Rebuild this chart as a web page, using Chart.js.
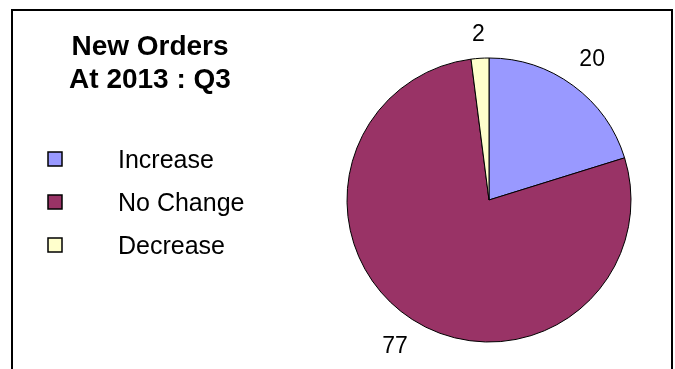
<!DOCTYPE html>
<html>
<head>
<meta charset="utf-8">
<script src="https://cdn.jsdelivr.net/npm/chart.js@4"></script>
<style>
    body { margin: 0; background: #fff; }
    #wrap { width: 675px; height: 369px; }
</style>
</head>
<body>
<div id="wrap"><canvas id="orderChart" width="675" height="369"></canvas></div>
<script>
const categories = ['Increase', 'No Change', 'Decrease'];
const values = [20, 77, 2];
const sliceColors = ['#9999FF', '#993366', '#FFFFCC'];
const titleLines = ['New Orders', 'At 2013 : Q3'];

const FONT = "'Liberation Sans', Arial, sans-serif";

// frame, title and legend drawn beside the pie
const sidePanel = {
    id: 'sidePanel',
    afterDraw(chart) {
        const ctx = chart.ctx;
        ctx.save();

        ctx.strokeStyle = '#000';
        ctx.lineWidth = 2;
        ctx.strokeRect(12, 10, 660, 380);

        ctx.fillStyle = '#000';
        ctx.font = 'bold 28px ' + FONT;
        ctx.textAlign = 'center';
        ctx.textBaseline = 'alphabetic';
        titleLines.forEach((line, i) => ctx.fillText(line, 150, 55 + i * 33));

        ctx.font = '25px ' + FONT;
        ctx.textAlign = 'left';
        chart.data.labels.forEach((label, i) => {
            const base = 168 + i * 43;
            ctx.fillStyle = chart.data.datasets[0].backgroundColor[i];
            ctx.fillRect(48, base - 16, 14, 14);
            ctx.lineWidth = 1.5;
            ctx.strokeStyle = '#000';
            ctx.strokeRect(48, base - 16, 14, 14);
            ctx.fillStyle = '#000';
            ctx.fillText(label, 118, base);
        });

        // value labels just outside each slice; wider text sits a bit further out
        const meta = chart.getDatasetMeta(0);
        ctx.font = '23px ' + FONT;
        ctx.textAlign = 'center';
        ctx.textBaseline = 'middle';
        meta.data.forEach((arc, i) => {
            const p = arc.getProps(['x', 'y', 'startAngle', 'endAngle', 'outerRadius'], true);
            const text = String(chart.data.datasets[0].data[i]);
            const mid = (p.startAngle + p.endAngle) / 2;
            const halfW = ctx.measureText(text).width / 2;
            const dist = p.outerRadius + 16 + 1.25 * halfW;
            ctx.fillText(text, p.x + Math.cos(mid) * dist, p.y + Math.sin(mid) * dist);
        });

        ctx.restore();
    }
};

new Chart(document.getElementById('orderChart').getContext('2d'), {
    type: 'pie',
    data: {
        labels: categories,
        datasets: [{
            data: values,
            backgroundColor: sliceColors,
            borderColor: '#000',
            borderWidth: 1
        }]
    },
    options: {
        responsive: false,
        animation: false,
        radius: 142,
        layout: {
            padding: { left: 339, right: 36, top: 50, bottom: 19 }
        },
        plugins: {
            legend: { display: false },
            tooltip: { enabled: false }
        }
    },
    plugins: [sidePanel]
});
</script>
</body>
</html>
